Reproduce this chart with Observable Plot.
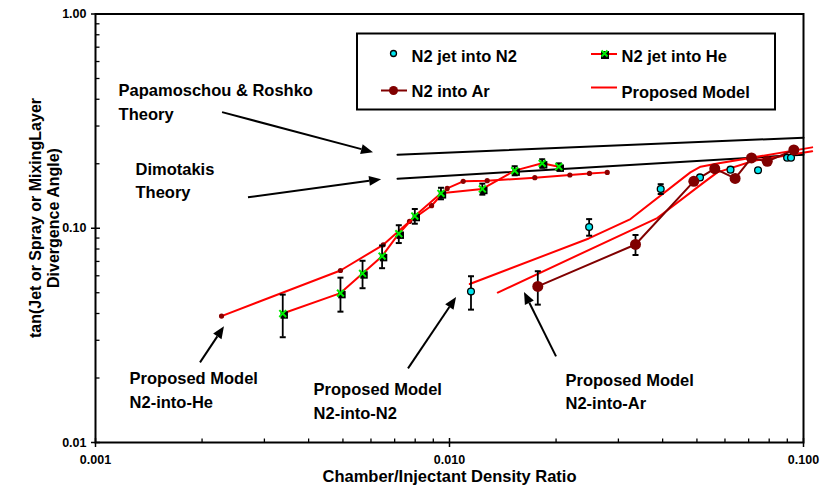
<!DOCTYPE html>
<html><head><meta charset="utf-8">
<script src="https://cdn.jsdelivr.net/npm/d3@7"></script>
<script src="https://cdn.jsdelivr.net/npm/@observablehq/plot@0.6"></script>
<style>
body{margin:0;background:#fff;}
svg{font-family:"Liberation Sans",Arial,sans-serif;}
</style>
</head><body><div id="chart"></div>
<script>
// ---- axis ticks ----
const xTicks = [0.001, 0.01, 0.1];
const xTickLabels = ["0.001", "0.010", "0.100"];
const yTicks = [0.01, 0.1, 1];
const yTickLabels = ["0.01", "0.10", "1.00"];
const xMinor = [0.002,0.003,0.004,0.005,0.006,0.007,0.008,0.009,0.02,0.03,0.04,0.05,0.06,0.07,0.08,0.09];
const yMinor = [0.02,0.03,0.04,0.05,0.06,0.07,0.08,0.09,0.2,0.3,0.4,0.5,0.6,0.7,0.8,0.9];
const xTitle = "Chamber/Injectant Density Ratio";
const yTitleLines = ["tan(Jet or Spray or MixingLayer", "Divergence Angle)"];

// ---- data: N2 jet into N2 ----
const n2X   = [0.0115, 0.0248, 0.0395, 0.0510, 0.0622, 0.0744, 0.0899, 0.0922];
const n2Y   = [0.0507, 0.1013, 0.1525, 0.1727, 0.1877, 0.1866, 0.2135, 0.2135];
const n2Err = [0.009, 0.009, 0.008, 0.004, 0.004, 0.004, 0.004, 0.004];
// ---- N2 jet into He ----
const heX   = [0.00338, 0.00492, 0.00568, 0.00645, 0.00719, 0.00798, 0.00946, 0.01238, 0.01528, 0.01827, 0.02036];
const heY   = [0.0400, 0.0498, 0.0615, 0.0741, 0.0943, 0.1140, 0.1455, 0.1525, 0.1857, 0.2009, 0.1938];
const heErr = [0.009, 0.009, 0.009, 0.009, 0.009, 0.009, 0.009, 0.009, 0.009, 0.009, 0.007];
// ---- N2 into Ar ----
const arX   = [0.01776, 0.03353, 0.0490, 0.05615, 0.0641, 0.0713, 0.0790, 0.0939];
const arY   = [0.0535, 0.0840, 0.1655, 0.1897, 0.1709, 0.2128, 0.2052, 0.2319];
const arErr = [0.0095, 0.009, 0.006, 0.006, 0.006, 0.006, 0.006, 0.006];
// ---- Proposed models ----
const modelHeX = [0.00227, 0.00492, 0.0065, 0.00771, 0.0089, 0.00985, 0.01093, 0.01278, 0.01742, 0.02188, 0.02486, 0.0279];
const modelHeY = [0.0389, 0.0635, 0.0837, 0.1076, 0.1274, 0.1535, 0.1655, 0.1667, 0.1722, 0.1772, 0.1803, 0.1823];
const modelN2X = [0.01141, 0.02475, 0.03245, 0.0479, 0.0512, 0.0577, 0.1058];
const modelN2Y = [0.0549, 0.0896, 0.1104, 0.1823, 0.1938, 0.2009, 0.2385];
const modelArX = [0.01369, 0.03862, 0.05231, 0.0571, 0.0724, 0.1058];
const modelArY = [0.0501, 0.1116, 0.1637, 0.1823, 0.2067, 0.2285];
// ---- Theory lines ----
const papX = [0.00713, 0.1];
const papY = [0.2206, 0.2648];
const dimX = [0.00713, 0.1];
const dimY = [0.1703, 0.2206];
// ---- annotations ----
const annoText = ["Papamoschou & Roshko\nTheory", "Dimotakis\nTheory", "Proposed Model\nN2-into-He", "Proposed Model\nN2-into-N2", "Proposed Model\nN2-into-Ar"];
const annoX = [0.001162, 0.001297, 0.001248, 0.00413, 0.02127];
const annoY = [0.3943, 0.1703, 0.01788, 0.01588, 0.01759];
const arrowX1 = [0.002285, 0.002705, 0.00198, 0.00766, 0.02006];
const arrowY1 = [0.3465, 0.1388, 0.02352, 0.02206, 0.02509];
const arrowX2 = [0.0061, 0.00643, 0.002314, 0.01047, 0.01629];
const arrowY2 = [0.2253, 0.1684, 0.03465, 0.04749, 0.0501];
// ---- legend ----
const legendLabels = ["N2 jet into N2", "N2 jet into He", "N2 into Ar", "Proposed Model"];

const toPts = (xs, ys, es) => xs.map((x, i) => ({x, y: ys[i], e: es ? es[i] : 0}));
const n2 = toPts(n2X, n2Y, n2Err);
const he = toPts(heX, heY, heErr);
const ar = toPts(arX, arY, arErr);
const mHe = toPts(modelHeX, modelHeY);
const mN2 = toPts(modelN2X, modelN2Y);
const mAr = toPts(modelArX, modelArY);
const pap = toPts(papX, papY);
const dim = toPts(dimX, dimY);
const annos = annoText.map((t, i) => ({t, x: annoX[i], y: annoY[i]}));

const vtick = {draw(ctx, size) { const r = Math.sqrt(size / Math.PI); ctx.moveTo(0, -r); ctx.lineTo(0, r); }};
const htick = {draw(ctx, size) { const r = Math.sqrt(size / Math.PI); ctx.moveTo(-r, 0); ctx.lineTo(r, 0); }};

const RED = "#ff0000", DARK = "#800000";
const errMarks = (data) => [
  Plot.ruleX(data, {x: "x", y1: d => d.y - d.e, y2: d => d.y + d.e, stroke: "black", strokeWidth: 1.8}),
  Plot.dot(data, {x: "x", y: d => d.y - d.e, symbol: htick, r: 3, stroke: "black", strokeWidth: 2}),
  Plot.dot(data, {x: "x", y: d => d.y + d.e, symbol: htick, r: 3, stroke: "black", strokeWidth: 2})
];

const chart = Plot.plot({
  width: 822, height: 495,
  marginLeft: 95, marginRight: 19, marginTop: 13.5, marginBottom: 53,
  x: {type: "log", domain: [0.001, 0.1], axis: null},
  y: {type: "log", domain: [0.01, 1], axis: null},
  style: {fontFamily: "'Liberation Sans', Arial, sans-serif", background: "white"},
  marks: [
    // theory
    Plot.line(pap, {x: "x", y: "y", stroke: "black", strokeWidth: 2}),
    Plot.line(dim, {x: "x", y: "y", stroke: "black", strokeWidth: 2}),
    // models
    Plot.line(mN2, {x: "x", y: "y", stroke: RED, strokeWidth: 2}),
    Plot.line(mAr, {x: "x", y: "y", stroke: RED, strokeWidth: 2}),
    Plot.line(mHe, {x: "x", y: "y", stroke: RED, strokeWidth: 2}),
    Plot.dot(mHe, {x: "x", y: "y", fill: "#8b0000", r: 2.6}),
    // data lines
    Plot.line(he, {x: "x", y: "y", stroke: RED, strokeWidth: 2}),
    Plot.line(ar, {x: "x", y: "y", stroke: DARK, strokeWidth: 2}),
    // error bars
    ...errMarks(he), ...errMarks(n2), ...errMarks(ar),
    // markers
    Plot.dot(he, {x: "x", y: "y", symbol: "square", fill: "black", r: 4.2, dx: 1.5, dy: 1.5}),
    Plot.dot(he, {x: "x", y: "y", symbol: "times", stroke: "#00ee00", strokeWidth: 2, r: 3.2}),
    Plot.dot(n2, {x: "x", y: "y", fill: "#00e5ee", stroke: "black", strokeWidth: 1.3, r: 3.4}),
    Plot.dot(ar, {x: "x", y: "y", fill: DARK, r: 5.5}),
    // frame and ticks
    Plot.frame({stroke: "black", strokeWidth: 2}),
    Plot.dot(xMinor, {x: d => d, frameAnchor: "bottom", symbol: vtick, r: 2, dy: -2, stroke: "black", strokeWidth: 1.3}),
    Plot.dot(xTicks, {x: d => d, frameAnchor: "bottom", symbol: vtick, r: 4.5, stroke: "black", strokeWidth: 1.5}),
    Plot.dot(yMinor, {y: d => d, frameAnchor: "left", symbol: htick, r: 2, dx: 2, stroke: "black", strokeWidth: 1.3}),
    Plot.dot(yTicks, {y: d => d, frameAnchor: "left", symbol: htick, r: 4.5, stroke: "black", strokeWidth: 1.5}),
    Plot.text(xTicks, {x: d => d, frameAnchor: "bottom", text: (d, i) => xTickLabels[i], dy: 21, fontSize: 12.5, fontWeight: "bold", fill: "black"}),
    Plot.text(yTicks, {y: d => d, frameAnchor: "left", text: (d, i) => yTickLabels[i], dx: -9, textAnchor: "end", fontSize: 12.5, fontWeight: "bold", fill: "black"}),
    Plot.text([xTitle], {frameAnchor: "bottom", text: d => d, dy: 39, fontSize: 16.5, fontWeight: "bold", fill: "black"}),
    // annotations
    Plot.text(annos, {x: "x", y: "y", text: "t", textAnchor: "start", lineAnchor: "middle", lineHeight: 1.42, fontSize: 16.5, fontWeight: "bold", fill: "black"})
  ]
});

document.getElementById("chart").appendChild(chart);

const sx = chart.scale("x"), sy = chart.scale("y");
const svg = d3.select(chart);

// y axis title (rotated, two lines)
const yt = svg.append("text")
  .attr("transform", "translate(44.5,218) rotate(-90)")
  .attr("text-anchor", "middle").attr("font-size", 16).attr("font-weight", "bold").attr("fill", "black");
yTitleLines.forEach((line, i) => {
  yt.append("tspan").attr("x", 0).attr("y", (i - 0.5) * 17.5).attr("dy", "0.35em").text(line);
});

// arrows using the chart's scales
const ag = svg.append("g");
arrowX1.forEach((_, i) => {
  const x1 = sx.apply(arrowX1[i]), y1 = sy.apply(arrowY1[i]);
  const x2 = sx.apply(arrowX2[i]), y2 = sy.apply(arrowY2[i]);
  const a = Math.atan2(y2 - y1, x2 - x1), L = 12, W = 5;
  const bx = x2 - L * Math.cos(a), by = y2 - L * Math.sin(a);
  ag.append("line").attr("x1", x1).attr("y1", y1).attr("x2", bx).attr("y2", by)
    .attr("stroke", "black").attr("stroke-width", 2);
  ag.append("path")
    .attr("d", `M${x2},${y2}L${bx + W * Math.sin(a)},${by - W * Math.cos(a)}L${bx - W * Math.sin(a)},${by + W * Math.cos(a)}Z`)
    .attr("fill", "black");
});

// legend
const lg = svg.append("g").attr("font-size", 16.5).attr("font-weight", "bold").attr("text-anchor", "start");
lg.append("rect").attr("x", 357).attr("y", 33.5).attr("width", 418).attr("height", 76)
  .attr("fill", "white").attr("stroke", "black").attr("stroke-width", 2);
// entry 1: N2 jet into N2
lg.append("circle").attr("cx", 393.5).attr("cy", 53.5).attr("r", 3).attr("fill", "#00e5ee").attr("stroke", "black").attr("stroke-width", 1.3);
lg.append("text").attr("x", 411.5).attr("y", 62).text(legendLabels[0]);
// entry 2: N2 jet into He
lg.append("line").attr("x1", 591).attr("x2", 617).attr("y1", 54).attr("y2", 54).attr("stroke", RED).attr("stroke-width", 2);
lg.append("rect").attr("x", 601).attr("y", 51).attr("width", 8).attr("height", 8).attr("fill", "black");
lg.append("path").attr("d", "M601.5,50.5L607.5,56.5M607.5,50.5L601.5,56.5").attr("stroke", "#00ee00").attr("stroke-width", 2);
lg.append("text").attr("x", 621.5).attr("y", 62).text(legendLabels[1]);
// entry 3: N2 into Ar
lg.append("line").attr("x1", 381).attr("x2", 407).attr("y1", 90.5).attr("y2", 90.5).attr("stroke", DARK).attr("stroke-width", 2);
lg.append("circle").attr("cx", 393.5).attr("cy", 90.5).attr("r", 4.5).attr("fill", DARK);
lg.append("text").attr("x", 411.5).attr("y", 97).text(legendLabels[2]);
// entry 4: Proposed Model
lg.append("line").attr("x1", 591).attr("x2", 617).attr("y1", 87.5).attr("y2", 87.5).attr("stroke", RED).attr("stroke-width", 2);
lg.append("text").attr("x", 621.5).attr("y", 98).text(legendLabels[3]);
</script>
</body></html>
